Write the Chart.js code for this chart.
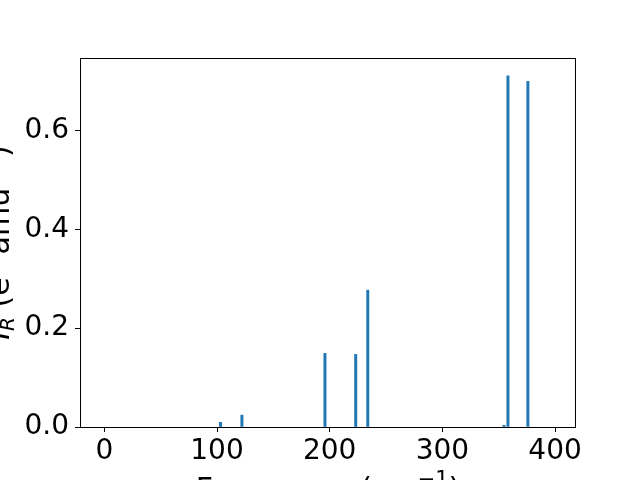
<!DOCTYPE html>
<html>
<head>
<meta charset="utf-8">
<script src="https://cdn.jsdelivr.net/npm/chart.js@4"></script>
<style>
  html, body { margin: 0; padding: 0; background: #fff; }
  canvas { display: block; }
</style>
</head>
<body>
<canvas id="chart" width="640" height="480"></canvas>
<script>
// frequencies (cm^-1) and IR intensities
const frequencies = [103.1, 122.1, 195.8, 223.1, 233.8, 354.7, 358.2, 375.9];
const intensities = [0.0095, 0.024, 0.149, 0.147, 0.277, 0.0035, 0.711, 0.700];
const xTicks = [0, 100, 200, 300, 400];
const yTicks = [0, 0.2, 0.4, 0.6];

const FONT = '"DejaVu Sans", sans-serif';

// writes a label made of pieces (sub/superscripts), centred on 0
function drawPieces(ctx, parts) {
    let total = 0;
    parts.forEach(p => { ctx.font = p.f; total += ctx.measureText(p.t).width; });
    let x = -total / 2;
    ctx.textAlign = 'left';
    ctx.textBaseline = 'alphabetic';
    parts.forEach(p => {
        ctx.font = p.f;
        ctx.fillText(p.t, x, p.dy);
        x += ctx.measureText(p.t).width;
    });
}

// frame round the plot area + axis titles (partly off the canvas, like the original)
const framePlugin = {
    id: 'frame',
    afterDraw(chart) {
        const ctx = chart.ctx;
        const a = chart.chartArea;
        ctx.save();
        ctx.strokeStyle = '#000';
        ctx.lineWidth = 1;
        ctx.strokeRect(Math.round(a.left) + 0.5, Math.round(a.top) + 0.5,
            Math.round(a.right - a.left) - 1, Math.round(a.bottom - a.top));
        ctx.fillStyle = '#000';

        // x title
        ctx.save();
        ctx.translate((a.left + a.right) / 2, 499);
        drawPieces(ctx, [
            { t: 'Frequency (cm', f: '30px ' + FONT, dy: 0 },
            { t: '\u22121', f: '21px ' + FONT, dy: -13 },
            { t: ')', f: '30px ' + FONT, dy: 0 }
        ]);
        ctx.restore();

        // y title, rotated
        ctx.translate(9, (a.top + a.bottom) / 2);
        ctx.rotate(-Math.PI / 2);
        drawPieces(ctx, [
            { t: 'I', f: 'italic 30px ' + FONT, dy: 0 },
            { t: 'R', f: 'italic 20px ' + FONT, dy: 5 },
            { t: ' (e', f: '30px ' + FONT, dy: 0 },
            { t: '2', f: '21px ' + FONT, dy: -13 },
            { t: ' amu', f: '30px ' + FONT, dy: 0 },
            { t: '\u22121', f: '21px ' + FONT, dy: -13 },
            { t: ')', f: '30px ' + FONT, dy: 0 }
        ]);
        ctx.restore();
    }
};

const chart = new Chart(document.getElementById('chart'), {
    type: 'bar',
    data: {
        datasets: [{
            data: frequencies.map((f, i) => ({ x: f, y: intensities[i] })),
            backgroundColor: '#1f77b4',
            borderWidth: 0,
            barThickness: 2.3
        }]
    },
    plugins: [framePlugin],
    options: {
        responsive: false,
        animation: false,
        devicePixelRatio: 1,
        layout: { padding: { top: 58, right: 64, left: 0, bottom: 0 } },
        plugins: { legend: { display: false }, tooltip: { enabled: false } },
        scales: {
            x: {
                type: 'linear',
                offset: false,
                min: -21.6,
                max: 418.6,
                afterBuildTicks: s => { s.ticks = xTicks.map(v => ({ value: v })); },
                afterFit: s => { s.height = 53; },
                grid: { offset: false, drawOnChartArea: false, drawTicks: true, tickLength: 5, color: '#000' },
                border: { display: false },
                ticks: {
                    color: '#000',
                    padding: 3,
                    maxRotation: 0,
                    font: { family: FONT, size: 28 },
                    callback: v => String(v)
                }
            },
            y: {
                min: 0,
                max: 0.747,
                afterBuildTicks: s => { s.ticks = yTicks.map(v => ({ value: v })); },
                afterFit: s => { s.width = 80; },
                grid: { offset: false, drawOnChartArea: false, drawTicks: true, tickLength: 5, color: '#000' },
                border: { display: false },
                ticks: {
                    color: '#000',
                    padding: 6,
                    font: { family: FONT, size: 28 },
                    callback: v => v.toFixed(1)
                }
            }
        }
    }
});
</script>
</body>
</html>
